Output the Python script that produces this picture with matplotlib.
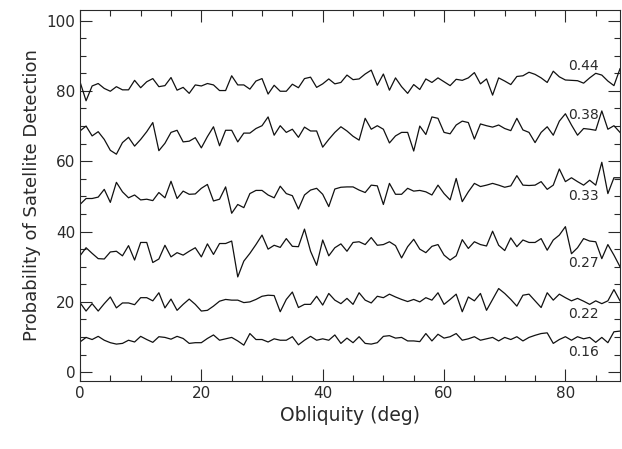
import numpy as np
import matplotlib
matplotlib.use("Agg")
import matplotlib.pyplot as plt
from matplotlib.ticker import MultipleLocator

obliquity = np.arange(90)

p44 = [82.6, 77.2, 81.4, 82.1, 80.7, 79.9, 81.2, 80.3, 80.3, 83.0,
       80.9, 82.6, 83.5, 81.2, 81.5, 83.8, 80.2, 81.0, 79.3, 81.7,
       81.4, 82.1, 81.7, 80.1, 80.1, 84.3, 81.7, 81.7, 80.5, 82.8,
       83.5, 79.1, 81.6, 79.9, 79.9, 81.9, 80.9, 83.5, 83.9, 81.0,
       82.0, 83.4, 82.0, 82.4, 84.5, 83.2, 83.4, 84.8, 85.9, 81.6,
       84.8, 80.2, 83.7, 81.2, 79.3, 81.8, 80.4, 83.4, 82.4, 83.7,
       82.6, 81.5, 83.3, 83.0, 83.7, 85.2, 82.0, 83.4, 78.8, 83.7,
       82.8, 81.8, 84.1, 84.3, 85.3, 84.7, 83.7, 82.4, 85.6, 84.0,
       83.1, 83.0, 82.9, 82.2, 83.7, 85.0, 84.5, 82.8, 81.5, 86.3]

p38 = [68.6, 70.0, 67.2, 68.4, 66.2, 63.1, 62.0, 65.3, 66.8, 64.3,
       66.2, 68.4, 71.0, 63.0, 65.1, 68.2, 68.8, 65.5, 65.7, 66.7,
       63.8, 67.0, 69.8, 64.4, 68.8, 68.8, 65.5, 68.0, 68.0, 69.3,
       70.1, 72.6, 67.4, 70.1, 68.2, 69.1, 66.8, 69.7, 68.6, 68.6,
       64.0, 66.2, 68.2, 69.8, 68.6, 67.1, 66.0, 72.2, 69.1, 70.1,
       69.1, 65.2, 67.2, 68.2, 68.2, 62.9, 70.0, 67.6, 72.6, 72.2,
       68.2, 67.8, 70.3, 71.4, 71.0, 66.3, 70.6, 70.1, 69.7, 70.3,
       69.3, 68.7, 72.2, 68.9, 68.2, 65.3, 68.2, 69.8, 67.4, 71.4,
       73.5, 70.3, 67.4, 69.3, 69.1, 68.8, 74.3, 69.1, 70.1, 68.2]

p33 = [47.7, 49.4, 49.4, 49.8, 52.0, 48.3, 54.0, 51.3, 49.6, 50.4,
       49.0, 49.2, 48.8, 51.1, 49.6, 54.3, 49.4, 51.5, 50.6, 50.7,
       52.3, 53.4, 48.7, 49.2, 52.7, 45.2, 47.7, 46.8, 50.8, 51.7,
       51.7, 50.4, 49.6, 52.9, 50.8, 50.2, 46.4, 50.4, 51.8, 52.3,
       50.6, 47.1, 52.1, 52.6, 52.7, 52.7, 51.8, 51.1, 53.2, 53.0,
       47.7, 53.7, 50.6, 50.6, 52.3, 51.5, 51.7, 51.3, 50.4, 53.2,
       50.8, 49.0, 55.1, 48.5, 51.3, 53.7, 52.8, 53.2, 53.7, 53.2,
       52.6, 53.0, 55.9, 53.2, 53.1, 53.2, 54.2, 52.0, 53.2, 57.8,
       54.2, 55.3, 54.2, 53.2, 54.6, 53.2, 59.7, 50.8, 55.3, 55.3]

p27 = [33.1, 35.4, 33.8, 32.3, 32.2, 34.2, 34.4, 33.1, 36.0, 31.9,
       36.9, 36.9, 31.2, 32.2, 36.1, 32.8, 34.0, 33.3, 34.4, 35.4,
       32.8, 36.5, 33.5, 36.6, 36.6, 37.3, 27.1, 31.6, 33.8, 36.3,
       39.0, 35.0, 36.1, 35.5, 38.0, 35.8, 35.7, 40.7, 34.4, 30.4,
       37.6, 33.1, 35.4, 36.5, 34.4, 36.9, 37.1, 36.3, 38.3, 36.1,
       36.3, 37.1, 36.0, 32.5, 35.7, 37.8, 35.0, 34.0, 35.8, 36.3,
       33.3, 31.9, 33.1, 37.7, 35.2, 37.1, 36.3, 35.9, 40.1, 36.1,
       34.6, 38.2, 35.7, 37.6, 36.9, 36.9, 38.0, 34.7, 37.6, 39.0,
       41.4, 33.7, 35.4, 38.0, 37.3, 37.1, 32.3, 36.3, 33.3, 30.0]

p22 = [19.8, 17.4, 19.5, 17.4, 19.5, 21.4, 18.3, 19.7, 19.7, 19.2,
       21.2, 21.2, 20.3, 22.6, 18.3, 20.8, 17.6, 19.3, 20.8, 19.3,
       17.4, 17.6, 18.8, 20.2, 20.7, 20.5, 20.5, 19.8, 20.0, 20.7,
       21.6, 21.9, 21.8, 17.2, 20.7, 22.8, 18.4, 19.3, 19.3, 21.6,
       19.1, 22.4, 20.5, 19.5, 21.0, 19.3, 22.6, 20.5, 19.7, 21.6,
       21.2, 22.2, 21.4, 20.7, 20.1, 20.7, 20.0, 21.2, 20.5, 22.6,
       19.3, 20.7, 22.2, 17.2, 21.4, 20.3, 22.4, 17.6, 20.7, 23.8,
       22.4, 20.7, 18.8, 21.9, 22.2, 20.3, 18.4, 22.6, 20.5, 22.2,
       21.2, 20.3, 21.0, 20.2, 19.3, 20.3, 19.5, 20.3, 23.5, 20.3]

p16 = [8.6, 9.9, 9.3, 10.2, 9.1, 8.4, 8.0, 8.2, 9.1, 8.6,
       10.2, 9.3, 8.5, 10.1, 9.9, 9.4, 10.2, 9.6, 8.2, 8.4,
       8.4, 9.6, 10.6, 9.1, 9.5, 9.9, 8.9, 7.7, 11.0, 9.3,
       9.3, 8.6, 9.5, 9.1, 9.1, 10.1, 7.8, 9.1, 10.2, 9.1,
       9.5, 9.1, 10.6, 8.2, 9.7, 8.4, 10.1, 8.2, 8.0, 8.4,
       10.2, 10.4, 9.7, 9.9, 8.9, 8.9, 8.7, 11.0, 8.9, 10.8,
       9.7, 10.1, 11.0, 9.1, 9.5, 10.1, 9.1, 9.5, 9.9, 8.9,
       9.9, 9.3, 10.1, 8.9, 9.9, 10.5, 11.0, 11.2, 8.2, 9.3,
       10.1, 9.1, 10.1, 9.5, 9.9, 8.5, 9.9, 8.4, 11.5, 11.7]

series = [p44, p38, p33, p27, p22, p16]
labels = ["0.44", "0.38", "0.33", "0.27", "0.22", "0.16"]
label_y = [87.0, 73.1, 50.2, 31.2, 16.6, 5.8]

ink = "#2a2a2a"

fig = plt.figure(figsize=(6.22, 4.49), dpi=100)
ax = fig.add_axes([0.1286, 0.1514, 0.8682, 0.8263])

for vals in series:
    ax.plot(obliquity, vals, color="#111111", lw=0.9)

# etiquettes des courbes
for lab, ly in zip(labels, label_y):
    ax.text(80.5, ly, lab, fontsize=10, va="center", ha="left", color=ink)

ax.set_xlim(0, 89)
ax.set_ylim(-2.5, 103)
ax.xaxis.set_major_locator(MultipleLocator(20))
ax.xaxis.set_minor_locator(MultipleLocator(5))
ax.yaxis.set_major_locator(MultipleLocator(20))
ax.yaxis.set_minor_locator(MultipleLocator(5))
ax.tick_params(which="both", direction="in", top=True, right=True,
               labelsize=11, colors=ink)
ax.tick_params(which="major", length=8.5, width=0.8)
ax.tick_params(which="minor", length=4.3, width=0.8)
for s in ax.spines.values():
    s.set_linewidth(0.8)
    s.set_color(ink)

ax.set_xlabel("Obliquity (deg)", fontsize=13.5, color=ink)
ax.set_ylabel("Probability of Satellite Detection", fontsize=13, color=ink)

fig.savefig("out.png", dpi=100)
